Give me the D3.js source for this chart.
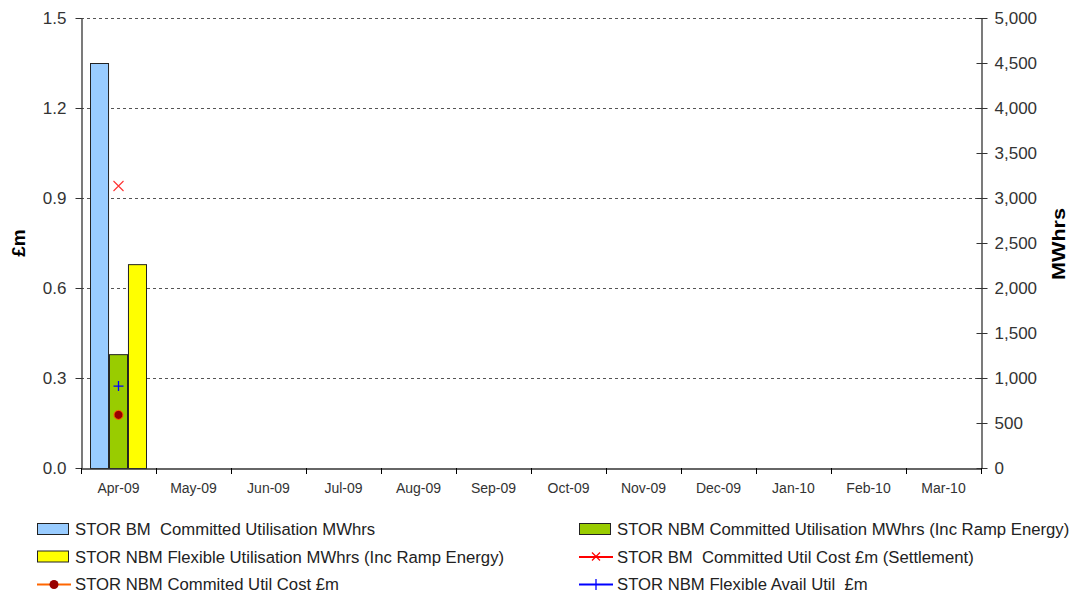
<!DOCTYPE html>
<html>
<head>
<meta charset="utf-8">
<script src="https://cdn.jsdelivr.net/npm/d3@7"></script>
<style>
  body { margin: 0; background: #fff; }
  text { font-family: "Liberation Sans", Arial, sans-serif; fill: #333; white-space: pre; }
  .tick text { font-size: 17px; }
  .legend text { font-size: 16.7px; }
</style>
</head>
<body>
<svg id="chart" width="1073" height="596"></svg>
<script>
// data
var months = ["Apr-09","May-09","Jun-09","Jul-09","Aug-09","Sep-09","Oct-09","Nov-09","Dec-09","Jan-10","Feb-10","Mar-10"];
var bmCommittedMWh = [4500, null, null, null, null, null, null, null, null, null, null, null];
var nbmCommittedMWh = [1265, null, null, null, null, null, null, null, null, null, null, null];
var nbmFlexibleMWh = [2265, null, null, null, null, null, null, null, null, null, null, null];
var bmCommittedCost = [0.94, null, null, null, null, null, null, null, null, null, null, null];
var nbmCommittedCost = [0.177, null, null, null, null, null, null, null, null, null, null, null];
var nbmFlexibleCost = [0.273, null, null, null, null, null, null, null, null, null, null, null];
var leftTicks = [0, 0.3, 0.6, 0.9, 1.2, 1.5];
var rightTicks = [0, 500, 1000, 1500, 2000, 2500, 3000, 3500, 4000, 4500, 5000];

var m = {t:18, r:92, b:128, l:81},
    W = 1073, H = 596,
    chartW = W - m.l - m.r,
    chartH = H - m.t - m.b;

var svg = d3.select("#chart");
var g = svg.append("g").attr("transform", "translate(" + m.l + "," + m.t + ")");

var x = d3.scaleBand().domain(months).range([0, chartW]);
var yL = d3.scaleLinear().domain([0, 1.5]).range([chartH, 0]);
var yR = d3.scaleLinear().domain([0, 5000]).range([chartH, 0]);

// gridlines
g.selectAll(".grid").data(leftTicks.filter(function(d){ return d > 0; }))
  .enter().append("line")
  .attr("class", "grid")
  .attr("x1", 0).attr("x2", chartW)
  .attr("y1", function(d){ return yL(d) + 0.5; })
  .attr("y2", function(d){ return yL(d) + 0.5; })
  .style("stroke", "#555").style("stroke-width", 1)
  .style("stroke-dasharray", "3,3");

// bars
var barSeries = [
  {name: "STOR BM  Committed Utilisation MWhrs", values: bmCommittedMWh, color: "#99ccff"},
  {name: "STOR NBM Committed Utilisation MWhrs (Inc Ramp Energy)", values: nbmCommittedMWh, color: "#99cc00"},
  {name: "STOR NBM Flexible Utilisation MWhrs (Inc Ramp Energy)", values: nbmFlexibleMWh, color: "#ffff00"}
];
var inner = d3.scaleBand().domain(d3.range(barSeries.length))
  .range([9, 65]).paddingInner(0.05);

barSeries.forEach(function(s, si){
  g.selectAll(".bar" + si)
    .data(s.values.map(function(v, i){ return {v: v, m: months[i]}; }).filter(function(d){ return d.v != null; }))
    .enter().append("rect")
    .attr("x", function(d){ return x(d.m) + inner(si) + 0.5; })
    .attr("y", function(d){ return yR(d.v) + 0.5; })
    .attr("width", inner.bandwidth())
    .attr("height", function(d){ return chartH - yR(d.v); })
    .style("fill", s.color)
    .style("stroke", "#222").style("stroke-width", 1);
});

// axes
var axL = g.append("g").attr("transform", "translate(0.5,0)")
  .call(d3.axisLeft(yL).tickValues(leftTicks).tickFormat(d3.format(".1f")).tickSizeInner(6).tickSizeOuter(0).tickPadding(9));
var axR = g.append("g").attr("transform", "translate(" + (chartW + 0.5) + ",0)")
  .call(d3.axisRight(yR).tickValues(rightTicks).tickFormat(d3.format(",")).tickSizeOuter(0).tickSizeInner(6).tickPadding(7));
axR.selectAll(".tick line").attr("x1", -5);
var axX = g.append("g").attr("transform", "translate(0," + (chartH + 0.5) + ")")
  .call(d3.axisBottom(x).tickSizeOuter(0).tickSize(0).tickPadding(15));
axX.selectAll(".tick line").remove();
// category boundary ticks
g.selectAll(".xt").data(d3.range(months.length + 1)).enter().append("line")
  .attr("x1", function(i){ return i * x.step() + 0.5; })
  .attr("x2", function(i){ return i * x.step() + 0.5; })
  .attr("y1", chartH).attr("y2", chartH + 6)
  .style("stroke", "#000");
[axL, axR, axX].forEach(function(a){
  a.select(".domain").style("stroke", "#333").style("stroke-width", 1.3);
  a.selectAll(".tick line").style("stroke", "#333");
  a.selectAll("text").style("fill", "#333");
});
axX.selectAll("text").style("font-size", "14px");

// point markers
var cx = function(i){ return x(months[i]) + x.bandwidth() / 2; };
bmCommittedCost.forEach(function(v, i){
  if (v == null) return;
  g.append("path").attr("d", "M-5,-5L5,5M-5,5L5,-5")
    .attr("transform", "translate(" + cx(i) + "," + yL(v) + ")")
    .style("stroke", "#ff3333").style("stroke-width", 1.1).style("fill", "none");
});
nbmCommittedCost.forEach(function(v, i){
  if (v == null) return;
  g.append("circle").attr("cx", cx(i)).attr("cy", yL(v)).attr("r", 4.5)
    .style("fill", "#990000").style("stroke", "#ff6600").style("stroke-width", 1);
});
nbmFlexibleCost.forEach(function(v, i){
  if (v == null) return;
  g.append("path").attr("d", "M-5,0L5,0M0,-5L0,5")
    .attr("transform", "translate(" + cx(i) + "," + yL(v) + ")")
    .style("stroke", "#0000ff").style("stroke-width", 1.3).style("fill", "none");
});

// axis titles
svg.append("text").text("£m")
  .attr("transform", "translate(25,243) rotate(-90)")
  .style("text-anchor", "middle").style("font-weight", "bold").style("font-size", "19px").style("fill", "#000");
svg.append("text").text("MWhrs")
  .attr("transform", "translate(1065,244) rotate(-90) scale(1.17,1)")
  .style("text-anchor", "middle").style("font-weight", "bold").style("font-size", "18.5px").style("fill", "#000");

// legend
var legendItems = [
  {name: barSeries[0].name, type: "bar", color: barSeries[0].color, col: 0, row: 0},
  {name: barSeries[1].name, type: "bar", color: barSeries[1].color, col: 1, row: 0},
  {name: barSeries[2].name, type: "bar", color: barSeries[2].color, col: 0, row: 1},
  {name: "STOR BM  Committed Util Cost £m (Settlement)", type: "x", color: "#ff0000", col: 1, row: 1},
  {name: "STOR NBM Commited Util Cost £m", type: "dot", color: "#ff6600", col: 0, row: 2},
  {name: "STOR NBM Flexible Avail Util  £m", type: "plus", color: "#0000ff", col: 1, row: 2}
];
var lg = svg.append("g").attr("class", "legend");
legendItems.forEach(function(d){
  var lx = d.col === 0 ? 37 : 579, ly = 529 + d.row * 27.5;
  var item = lg.append("g").attr("transform", "translate(" + lx + "," + ly + ")");
  if (d.type === "bar") {
    item.append("rect").attr("x", 0.5).attr("y", -5.5).attr("width", 31).attr("height", 11)
      .style("fill", d.color).style("stroke", "#222");
  } else {
    item.append("line").attr("x1", 0).attr("x2", 34).attr("y1", 0.5).attr("y2", 0.5)
      .style("stroke", d.color).style("stroke-width", 2);
    if (d.type === "x") {
      item.append("path").attr("d", "M13,-4L21,4M13,4L21,-4").style("stroke", d.color).style("stroke-width", 1.2);
    } else if (d.type === "dot") {
      item.append("circle").attr("cx", 17).attr("cy", 0.5).attr("r", 4.5).style("fill", "#990000");
    } else {
      item.append("path").attr("d", "M17,-5L17,6").style("stroke", d.color).style("stroke-width", 1.3);
    }
  }
  item.append("text").text(d.name).attr("x", 38).attr("y", 6).style("fill", "#222");
});
</script>
</body>
</html>
